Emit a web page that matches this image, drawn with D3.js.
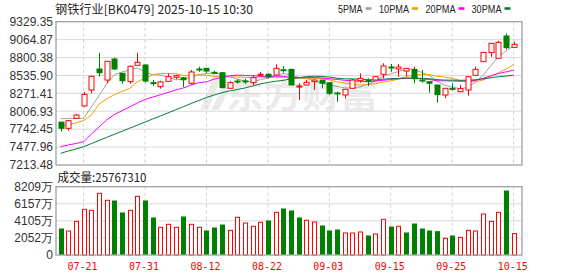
<!DOCTYPE html>
<html><head><meta charset="utf-8">
<script src="https://cdn.jsdelivr.net/npm/d3@7/dist/d3.min.js"></script>
<style>body{margin:0;background:#fff}svg{display:block}</style>
</head><body><svg id="c" width="578" height="276"></svg>
<script>
const dates = ["07-16","07-17","07-18","07-21","07-22","07-23","07-24","07-25","07-28","07-29","07-30","07-31",
"08-01","08-04","08-05","08-06","08-07","08-08","08-11","08-12","08-13","08-14","08-15","08-18","08-19","08-20","08-21","08-22",
"08-25","08-26","08-27","08-28","08-29","09-01","09-02","09-03","09-04","09-05","09-08","09-09","09-10","09-11","09-12","09-15",
"09-16","09-17","09-18","09-19","09-22","09-23","09-24","09-25","09-26","09-29","09-30","10-09","10-10","10-13","10-14","10-15"];
const open  = [7846,7755,7903,8085,8321,8631,8468,8779,8567,8444,8686,8690,8430,8370,8449,8508,8502,8420,8631,8641,
8582,8576,8346,8453,8455,8429,8538,8553,8542,8621,8626,8370,8395,8444,8468,8429,8277,8247,8346,8458,
8468,8468,8553,8660,8631,8601,8626,8468,8444,8395,8247,8345,8296,8321,8538,8739,8872,8789,9118,8951];
const high  = [7853,7877,7967,8291,8532,8872,8750,8798,8576,8680,8872,8700,8468,8458,8567,8547,8513,8616,8665,8646,
8606,8587,8454,8479,8485,8542,8587,8567,8700,8675,8631,8420,8468,8478,8468,8439,8296,8331,8483,8567,
8493,8527,8715,8705,8705,8646,8665,8616,8444,8395,8346,8420,8395,8517,8665,8877,9010,9049,9158,9034];
const low   = [7705,7720,7903,8074,8272,8523,8420,8620,8414,8414,8680,8430,8384,8340,8449,8483,8365,8399,8591,8572,
8553,8355,8346,8414,8409,8395,8517,8493,8527,8576,8395,8173,8395,8321,8346,8247,8148,8198,8346,8429,
8380,8468,8493,8591,8517,8527,8420,8429,8281,8133,8198,8311,8296,8237,8538,8739,8813,8789,8922,8951];
const close = [7755,7868,7952,8257,8523,8576,8745,8631,8458,8671,8730,8453,8423,8439,8517,8532,8473,8587,8626,8601,
8576,8355,8429,8446,8450,8503,8553,8517,8641,8612,8395,8380,8434,8468,8420,8272,8270,8331,8468,8493,
8463,8517,8675,8650,8660,8641,8488,8463,8420,8252,8346,8336,8341,8517,8626,8877,9010,9025,8946,8995];
// volume in 万
const volume = [3125,2885,4050,5490,5370,7415,6575,6490,5050,5370,7055,6490,4450,3330,3690,3330,4570,3690,3330,2885,
3245,3605,2965,4530,3845,3450,3930,4090,5130,5530,5290,4450,4170,3965,3485,2885,3005,2645,2645,2765,
2285,2525,4290,3365,3450,2645,3725,3125,2885,2805,2005,2285,2125,2965,2885,4930,4050,5130,7690,2577];
const ma5  = [7897,7899,7900,7903,8071,8235,8411,8546,8587,8616,8647,8589,8547,8543,8512,8473,8477,8510,8547,8564,
8573,8549,8517,8481,8451,8437,8476,8494,8533,8565,8544,8509,8492,8458,8419,8395,8373,8352,8352,8367,
8405,8454,8523,8560,8594,8630,8624,8582,8534,8453,8394,8364,8339,8358,8433,8539,8673,8811,8897,8971];
const ma10 = [7789,7810,7835,7870,7950,8110,8190,8250,8300,8344,8441,8500,8547,8565,8564,8560,8533,8528,8545,8538,
8523,8513,8514,8514,8508,8505,8513,8506,8507,8508,8490,8493,8493,8495,8492,8469,8441,8422,8405,8393,
8400,8414,8438,8457,8481,8517,8539,8552,8548,8524,8512,8494,8460,8446,8443,8467,8519,8575,8628,8702];
const ma20 = [7484,7509,7531,7558,7667,7773,7879,7958,8015,8071,8129,8181,8216,8250,8285,8321,8352,8393,8430,8441,
8482,8506,8530,8540,8536,8532,8523,8517,8526,8523,8506,8503,8503,8505,8500,8487,8477,8464,8456,8451,
8445,8453,8465,8476,8486,8493,8490,8487,8476,8458,8456,8454,8449,8452,8462,8492,8529,8564,8588,8613];
const ma30 = [7386,7420,7450,7484,7529,7575,7621,7667,7711,7757,7801,7847,7893,7937,7983,8029,8074,8122,8166,8210,
8247,8281,8306,8328,8350,8380,8410,8432,8450,8463,8485,8502,8518,8525,8521,8511,8495,8485,8486,8480,
8471,8473,8481,8489,8493,8497,8498,8493,8487,8475,8467,8467,8464,8466,8472,8484,8500,8517,8527,8540];
const priceTicks = [9329.35,9064.87,8800.38,8535.90,8271.41,8006.93,7742.45,7477.96,7213.48];
const volTicks = [0,2052.25,4104.5,6156.75,8209];
const volTickLabels = ["0","2052万","4105万","6157万","8209万"];
const dateTicks = ["07-21","07-31","08-12","08-22","09-03","09-15","09-25","10-15"];
const titleText = "钢铁行业[BK0479] 2025-10-15 10:30";
const volText = "成交量:25767310";
const legendNames = ["5PMA","10PMA","20PMA","30PMA"];
const maColors = ["#a0a0a0","#f0a000","#ff00ff","#0a7a3c"];

const RED = "#ff0000", GREEN = "#008000";
const svg = d3.select("#c");
const L = 56, R = 522, T1 = 21.7, B1 = 165, T2 = 186.7, B2 = 255;
const fontNum = "'Liberation Sans', Arial, sans-serif";
const fontCJK = "'Noto Sans CJK SC', sans-serif";

const x = d3.scaleBand().domain(dates).range([56.7, 517.5]);
const cx = d => x(d) + x.bandwidth()/2;
const y = d3.scaleLinear().domain([7213.48, 9329.35]).range([B1, T1]);
const yv = d3.scaleLinear().domain([0, 8209]).range([B2, T2]);

// title
svg.append("text").attr("x",55).attr("y",13.5).attr("font-family",fontCJK).attr("font-size",12)
  .attr("fill","#222").attr("textLength",198).attr("lengthAdjust","spacingAndGlyphs").text(titleText);

// legend
const legX = [338, 379, 425.5, 471.5], legW = [24.5, 30, 30, 30];
legendNames.forEach((n,i)=>{
  svg.append("text").attr("x",legX[i]).attr("y",13).attr("font-family",fontNum).attr("font-size",11)
    .attr("fill","#222").attr("textLength",legW[i]).attr("lengthAdjust","spacingAndGlyphs").text(n);
  svg.append("rect").attr("x",legX[i]+legW[i]+3).attr("y",7.2).attr("width",6).attr("height",2.6).attr("fill",maColors[i]);
});

// watermark
const wm = svg.append("g").attr("fill","#ebebeb");
wm.append("path").attr("d","M200,110 L214,76 L222,76 L208,110 Z");
wm.append("path").attr("d","M211,110 L226,80 L232,84 L219,110 Z");
wm.append("text").attr("x",226).attr("y",108).attr("font-family",fontCJK).attr("font-weight","bold")
  .attr("font-size",34).attr("textLength",152).attr("lengthAdjust","spacingAndGlyphs").text("东方财富");

// grids
const gridCol = "#d9d9d9";
svg.append("g").selectAll("line").data(priceTicks.slice(1,-1)).join("line")
  .attr("x1",L).attr("x2",R).attr("y1",d=>y(d)).attr("y2",d=>y(d)).attr("stroke",gridCol);
svg.append("g").selectAll("line").data(volTicks.slice(1,-1)).join("line")
  .attr("x1",L).attr("x2",R).attr("y1",d=>yv(d)).attr("y2",d=>yv(d)).attr("stroke",gridCol);
[[T1,B1],[T2,B2]].forEach(([a,b])=>{
  svg.append("g").selectAll("line").data(dateTicks).join("line")
    .attr("x1",d=>cx(d)).attr("x2",d=>cx(d)).attr("y1",a).attr("y2",b)
    .attr("stroke","#cfcfcf").attr("stroke-dasharray","3,3");
});

// axis labels
svg.append("g").selectAll("text").data(priceTicks).join("text")
  .attr("x",53).attr("y",d=>y(d)).attr("dy","0.36em").attr("text-anchor","end")
  .attr("font-family",fontNum).attr("font-size",12).attr("fill","#333").text(d=>d.toFixed(2));
svg.append("g").selectAll("text").data(volTicks).join("text")
  .attr("x",53).attr("y",d=>yv(d)).attr("dy","0.36em").attr("text-anchor","end")
  .attr("font-family",fontNum).attr("font-size",12).attr("fill","#333").text((d,i)=>volTickLabels[i]);
svg.append("g").selectAll("text").data(dateTicks).join("text")
  .attr("x",d=>cx(d)-1).attr("y",270).attr("text-anchor","middle")
  .attr("font-family","'DejaVu Sans Mono', monospace").attr("font-size",11).attr("fill",RED)
  .attr("textLength",30).attr("lengthAdjust","spacingAndGlyphs").text(d=>d);
svg.append("text").attr("x",57.5).attr("y",181.5).attr("font-family",fontCJK).attr("font-size",12)
  .attr("fill","#222").attr("textLength",89).attr("lengthAdjust","spacingAndGlyphs").text(volText);

// MA lines
[ma5,ma10,ma20,ma30].forEach((arr,k)=>{
  const line = d3.line().x((d,i)=>cx(dates[i])).y(d=>y(d));
  svg.append("path").attr("d",line(arr)).attr("fill","none").attr("stroke",maColors[k]).attr("stroke-width",1);
});

// candles
const bw = 5;
const cg = svg.append("g");
dates.forEach((d,i)=>{
  const up = close[i] > open[i];
  const col = up ? RED : GREEN;
  const c = Math.round(cx(d)) + 0.5;
  cg.append("line").attr("x1",c).attr("x2",c).attr("y1",y(high[i])).attr("y2",y(low[i])).attr("stroke",col);
  const top = y(Math.max(open[i],close[i])), bot = y(Math.min(open[i],close[i]));
  const h = Math.max(1, bot-top);
  if (up) {
    cg.append("rect").attr("x",c-2.5).attr("y",top).attr("width",bw).attr("height",h)
      .attr("fill","#fff").attr("stroke",col);
  } else {
    cg.append("rect").attr("x",c-3).attr("y",top-0.5).attr("width",bw+1).attr("height",h+1)
      .attr("fill",col);
  }
});

// volume bars
const vg = svg.append("g");
dates.forEach((d,i)=>{
  const up = i===0 ? close[i] >= open[i] : close[i] >= close[i-1];
  const col = up ? RED : GREEN;
  const c = Math.round(cx(d)) + 0.5;
  if (up) {
    vg.append("rect").attr("x",c-2).attr("y",yv(volume[i])).attr("width",4).attr("height",B2-yv(volume[i]))
      .attr("fill","#fff").attr("stroke",col);
  } else {
    vg.append("rect").attr("x",c-2.5).attr("y",yv(volume[i])-0.5).attr("width",5).attr("height",B2-yv(volume[i])+0.5)
      .attr("fill",col);
  }
});

// borders
[[T1,B1],[T2,B2]].forEach(([a,b])=>{
  svg.append("rect").attr("x",L).attr("y",a).attr("width",R-L).attr("height",b-a)
    .attr("fill","none").attr("stroke","#a0a0a0").attr("stroke-width",1.3);
});
</script></body></html>
